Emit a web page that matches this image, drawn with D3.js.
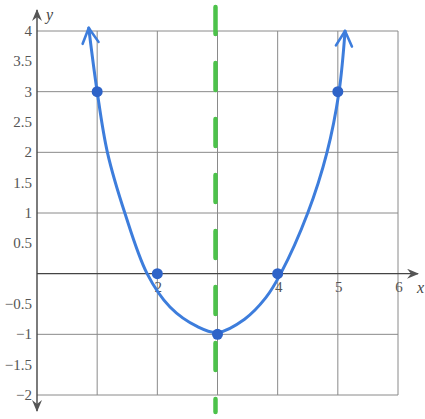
<!DOCTYPE html>
<html>
<head>
<meta charset="utf-8">
<script src="https://cdn.jsdelivr.net/npm/d3@7"></script>
<style>
  html, body { margin: 0; padding: 0; background: #fff; }
  svg { display: block; }
</style>
</head>
<body>
<script>
// Plotted points of y = (x - 3)^2 - 1
const pointsX = [1, 2, 3, 4, 5];
const pointsY = [3, 0, -1, 0, 3];

// Hand-traced path of the curve, arrow to arrow
const curveX = [0.86, 1.0, 1.17, 1.46, 1.83, 2.21, 2.66, 3.0, 3.45, 3.8, 4.05, 4.5, 4.82, 5.02, 5.12];
const curveY = [4.05, 3.0, 2.0, 1.0, 0.0, -0.55, -0.87, -0.97, -0.75, -0.4, 0.0, 1.0, 2.0, 3.0, 4.0];

// Axis of symmetry x = 3
const symmetryX = 3;

// Grid and tick labels
const gridX = [1, 2, 3, 4, 5, 6];
const gridY = [-2, -1, 1, 2, 3, 4];
const xTickLabels = [2, 4, 5, 6];
const yTickLabels = [4, 3.5, 3, 2.5, 2, 1.5, 1, 0.5, -0.5, -1, -1.5, -2];

const W = 425, H = 419;
const svg = d3.select("body").append("svg").attr("width", W).attr("height", H);

const x = d3.scaleLinear().domain([0, 6]).range([37, 398]);
const y = d3.scaleLinear().domain([-2, 4]).range([395, 31]);

const defs = svg.append("defs");
defs.append("marker")
  .attr("id", "axisArrow").attr("viewBox", "0 0 12 10")
  .attr("refX", 11).attr("refY", 5)
  .attr("markerWidth", 12).attr("markerHeight", 10)
  .attr("markerUnits", "userSpaceOnUse")
  .attr("orient", "auto-start-reverse")
  .append("path").attr("d", "M0,0 L12,5 L0,10 L4,5 Z").attr("fill", "#555");
defs.append("marker")
  .attr("id", "curveArrow").attr("viewBox", "0 0 20 20")
  .attr("refX", 18).attr("refY", 10)
  .attr("markerWidth", 20).attr("markerHeight", 20)
  .attr("markerUnits", "userSpaceOnUse")
  .attr("orient", "auto-start-reverse")
  .append("path").attr("d", "M3,2 L18,10 L3,18")
  .attr("fill", "none").attr("stroke", "#3d7ddc").attr("stroke-width", 2.6)
  .attr("stroke-linecap", "round").attr("stroke-linejoin", "round");

// Grid lines
const grid = svg.append("g").attr("stroke", "#8a8a8a").attr("stroke-width", 1);
grid.selectAll("line.v").data(gridX).join("line")
  .attr("x1", d => x(d)).attr("x2", d => x(d))
  .attr("y1", y(4)).attr("y2", y(-2));
grid.selectAll("line.h").data(gridY).join("line")
  .attr("x1", x(0)).attr("x2", x(6))
  .attr("y1", d => y(d)).attr("y2", d => y(d));

// Axes
svg.append("line")
  .attr("x1", x(0)).attr("x2", 418).attr("y1", y(0)).attr("y2", y(0))
  .attr("stroke", "#444").attr("stroke-width", 1.4)
  .attr("marker-end", "url(#axisArrow)");
svg.append("line")
  .attr("x1", x(0)).attr("x2", x(0)).attr("y1", 411).attr("y2", 10)
  .attr("stroke", "#444").attr("stroke-width", 1.4)
  .attr("marker-start", "url(#axisArrow)")
  .attr("marker-end", "url(#axisArrow)");

const font = "'Liberation Serif', 'DejaVu Serif', serif";

// y tick labels
svg.append("g").selectAll("text").data(yTickLabels).join("text")
  .attr("x", 32).attr("y", d => y(d) + 5)
  .attr("text-anchor", "end")
  .attr("font-family", font).attr("font-size", 15).attr("fill", "#555")
  .text(d => d3.format("")(d).replace("-", "\u2212"));

// x tick labels
svg.append("g").selectAll("text").data(xTickLabels).join("text")
  .attr("x", d => x(d) + 1).attr("y", y(0) + 18)
  .attr("text-anchor", "middle")
  .attr("font-family", font).attr("font-size", 15).attr("fill", "#555")
  .text(d => d);

// Axis names
svg.append("text").attr("x", 46).attr("y", 20)
  .attr("font-family", font).attr("font-style", "italic").attr("font-size", 16).attr("fill", "#444")
  .text("y");
svg.append("text").attr("x", 417).attr("y", 293)
  .attr("font-family", font).attr("font-style", "italic").attr("font-size", 16).attr("fill", "#444")
  .text("x");

// Axis of symmetry
svg.append("line")
  .attr("x1", x(symmetryX) - 2).attr("x2", x(symmetryX) - 2)
  .attr("y1", 7).attr("y2", 412)
  .attr("stroke", "#4cc24a").attr("stroke-width", 4.5)
  .attr("stroke-dasharray", "27,29")
  .attr("stroke-linecap", "round");

// Parabola
const curveData = curveX.map((d, i) => [d, curveY[i]]);
svg.append("path")
  .datum(curveData)
  .attr("d", d3.line().x(d => x(d[0])).y(d => y(d[1])).curve(d3.curveCatmullRom.alpha(0.5)))
  .attr("fill", "none").attr("stroke", "#3d7ddc").attr("stroke-width", 3)
  .attr("stroke-linecap", "round")
  .attr("marker-start", "url(#curveArrow)")
  .attr("marker-end", "url(#curveArrow)");

// Plotted points
svg.append("g").selectAll("circle").data(pointsX).join("circle")
  .attr("cx", d => x(d)).attr("cy", (d, i) => y(pointsY[i]))
  .attr("r", 5.5).attr("fill", "#2e63c8");
</script>
</body>
</html>
